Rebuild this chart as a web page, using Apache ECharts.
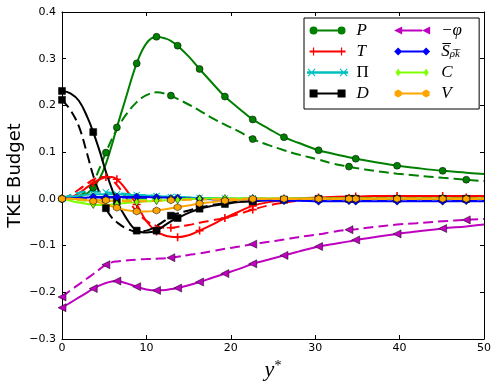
<!DOCTYPE html>
<html>
<head>
<meta charset="utf-8">
<script src="https://cdn.jsdelivr.net/npm/echarts@6/dist/echarts.min.js"></script>
<style>
html, body { margin: 0; padding: 0; background: #fff; }
#chart { width: 498px; height: 386px; }
</style>
</head>
<body>
<div id="chart"></div>
<script>
// y* grid shared by every curve
var yStar = [0, 1, 2, 3, 3.7, 4.5, 5.2, 5.9, 6.5, 7.5, 8.85, 10, 11.2, 12.3, 12.9, 13.7, 15, 16.3, 17.8, 19.3, 21, 22.6, 24.5, 26.3, 28, 30.4, 32, 34, 34.8, 37, 39.7, 42, 45.1, 47.9, 50];
// where markers sit on solid / dashed curves
var solidMarks = [0, 3.7, 6.5, 8.85, 11.2, 13.7, 16.3, 19.3, 22.6, 26.3, 30.4, 34.8, 39.7, 45.1];
var dashedMarks = [0, 5.2, 12.9, 22.6, 34, 47.9];

var pSolid = [0, 0.001, 0.004, 0.012, 0.024, 0.045, 0.075, 0.115, 0.153, 0.212, 0.29, 0.333, 0.347, 0.343, 0.338, 0.328, 0.305, 0.278, 0.248, 0.219, 0.193, 0.170, 0.150, 0.132, 0.12, 0.104, 0.097, 0.089, 0.086, 0.079, 0.071, 0.066, 0.060, 0.056, 0.053];
var pDashed = [0, 0.002, 0.006, 0.018, 0.035, 0.068, 0.099, 0.128, 0.148, 0.178, 0.207, 0.222, 0.228, 0.225, 0.221, 0.214, 0.202, 0.189, 0.173, 0.159, 0.144, 0.128, 0.115, 0.104, 0.095, 0.084, 0.076, 0.069, 0.066, 0.060, 0.054, 0.050, 0.045, 0.041, 0.038];
var tSolid = [0, 0.003, 0.012, 0.025, 0.034, 0.042, 0.046, 0.047, 0.042, 0.022, -0.012, -0.048, -0.07, -0.079, -0.081, -0.082, -0.078, -0.068, -0.055, -0.041, -0.027, -0.015, -0.007, -0.002, 0.001, 0.003, 0.004, 0.005, 0.005, 0.006, 0.006, 0.006, 0.006, 0.006, 0.006];
var tDashed = [0, 0.008, 0.02, 0.033, 0.041, 0.047, 0.047, 0.04, 0.03, 0.005, -0.027, -0.047, -0.058, -0.062, -0.062, -0.06, -0.056, -0.051, -0.046, -0.041, -0.032, -0.023, -0.014, -0.008, -0.004, -0.001, 0.001, 0.002, 0.002, 0.003, 0.003, 0.003, 0.003, 0.003, 0.003];
var piSolid = [0, 0.004, 0.007, 0.009, 0.01, 0.01, 0.01, 0.01, 0.01, 0.009, 0.008, 0.007, 0.006, 0.005, 0.004, 0.004, 0.003, 0.002, 0.002, 0.001, 0.001, 0.001, 0, 0, 0, 0, 0, 0, 0, 0, 0, 0, 0, 0, 0];
var piDashed = [0, 0.008, 0.013, 0.016, 0.016, 0.015, 0.014, 0.013, 0.012, 0.011, 0.009, 0.008, 0.006, 0.005, 0.004, 0.004, 0.003, 0.002, 0.001, 0.001, 0, 0, 0, 0, 0, 0, 0, 0, 0, 0, 0, 0, 0, 0, 0];
var dSolid = [0.231, 0.226, 0.21, 0.175, 0.143, 0.1, 0.058, 0.022, -0.005, -0.038, -0.068, -0.072, -0.068, -0.055, -0.048, -0.041, -0.03, -0.021, -0.015, -0.011, -0.007, -0.005, -0.003, -0.002, -0.001, 0, 0, 0, 0, 0, 0, 0, 0, 0, 0];
var dDashed = [0.212, 0.19, 0.155, 0.095, 0.05, 0.01, -0.02, -0.04, -0.05, -0.062, -0.07, -0.068, -0.058, -0.045, -0.036, -0.031, -0.025, -0.019, -0.013, -0.009, -0.006, -0.004, -0.002, -0.001, 0, 0, 0, 0, 0, 0, 0, 0, 0, 0, 0];
var phiSolid = [-0.233, -0.222, -0.211, -0.2, -0.192, -0.185, -0.18, -0.177, -0.176, -0.18, -0.188, -0.194, -0.196, -0.195, -0.193, -0.191, -0.185, -0.178, -0.169, -0.16, -0.15, -0.139, -0.13, -0.121, -0.113, -0.102, -0.097, -0.091, -0.088, -0.082, -0.075, -0.07, -0.0635, -0.059, -0.055];
var phiDashed = [-0.21, -0.196, -0.183, -0.17, -0.161, -0.15, -0.141, -0.136, -0.134, -0.132, -0.13, -0.129, -0.128, -0.127, -0.126, -0.124, -0.12, -0.117, -0.112, -0.107, -0.102, -0.097, -0.092, -0.087, -0.082, -0.076, -0.071, -0.066, -0.065, -0.06, -0.055, -0.052, -0.048, -0.045, -0.043];
var sSolid = [0, 0.001, 0.002, 0.003, 0.004, 0.004, 0.004, 0.004, 0.004, 0.004, 0.004, 0.004, 0.003, 0.003, 0.002, 0.002, 0.001, 0, -0.001, -0.002, -0.002, -0.003, -0.003, -0.004, -0.004, -0.005, -0.005, -0.005, -0.005, -0.005, -0.005, -0.005, -0.005, -0.005, -0.005];
var sDashed = [0, 0.001, 0.002, 0.002, 0.003, 0.003, 0.003, 0.003, 0.003, 0.003, 0.002, 0.002, 0.002, 0.001, 0.001, 0.001, 0, 0, -0.001, -0.001, -0.002, -0.002, -0.003, -0.003, -0.003, -0.004, -0.004, -0.004, -0.004, -0.004, -0.004, -0.004, -0.004, -0.004, -0.004];
var cSolid = [0, -0.004, -0.008, -0.011, -0.012, -0.013, -0.013, -0.012, -0.011, -0.009, -0.007, -0.005, -0.004, -0.003, -0.002, -0.002, -0.001, 0, 0.001, 0.001, 0.001, 0.001, 0.001, 0.001, 0.001, 0.001, 0.001, 0.001, 0.001, 0.001, 0.001, 0.001, 0.001, 0.001, 0.001];
var cDashed = [0, -0.002, -0.003, -0.004, -0.004, -0.004, -0.004, -0.004, -0.003, -0.003, -0.002, -0.002, -0.001, -0.001, -0.001, 0, 0, 0, 0, 0, 0, 0, 0, 0, 0, 0, 0, 0, 0, 0, 0, 0, 0, 0, 0];
var vSolid = [0, 0, -0.001, -0.003, -0.005, -0.008, -0.012, -0.016, -0.019, -0.024, -0.027, -0.027, -0.025, -0.022, -0.02, -0.018, -0.014, -0.01, -0.007, -0.004, -0.002, -0.001, 0, 0, 0, 0, 0, 0, 0, 0, 0, 0, 0, 0, 0];
var vDashed = [0, 0, -0.001, -0.002, -0.002, -0.003, -0.003, -0.004, -0.004, -0.005, -0.005, -0.005, -0.004, -0.004, -0.003, -0.003, -0.002, -0.002, -0.001, -0.001, 0, 0, 0, 0, 0, 0, 0, 0, 0, 0, 0, 0, 0, 0, 0];

var names = ['P', 'T', 'Π', 'D', '−φ', 'Sρk', 'C', 'V'];
var colors = ['#008000', '#ff0000', '#00bfbf', '#000000', '#bf00bf', '#0000ff', '#80ff00', '#ffa500'];

// marker shapes (matplotlib o + x s < D d h)
var markers = [
    {symbol: 'circle', size: 7, edge: true},
    {symbol: 'path://M4,0H6V10H4Z M0,4H10V6H0Z', size: 8, edge: false},
    {symbol: 'path://M0,1L1,0L5,4L9,0L10,1L6,5L10,9L9,10L5,6L1,10L0,9L4,5Z', size: 7, edge: false},
    {symbol: 'rect', size: 7, edge: true},
    {symbol: 'path://M0,5L10,0V10Z', size: 8, edge: true},
    {symbol: 'diamond', size: [8, 8], edge: true},
    {symbol: 'diamond', size: [5, 8], edge: true},
    {symbol: 'path://M5,0L9.33,2.5V7.5L5,10L0.67,7.5V2.5Z', size: 7, edge: true}
];
// legend handles: line with a marker at both ends
var legendIcons = [
    'path://M0,4a4,4 0 1,1 8,0a4,4 0 1,1 -8,0Z M28,4a4,4 0 1,1 8,0a4,4 0 1,1 -8,0Z M8,3H28V5H8Z',
    'path://M0,3H36V5H0Z M3.4,0H4.6V8H3.4Z M31.4,0H32.6V8H31.4Z',
    'path://M0.5,1.2L1.2,0.5L4,3.3L6.8,0.5L7.5,1.2L4.7,4L7.5,6.8L6.8,7.5L4,4.7L1.2,7.5L0.5,6.8L3.3,4Z M28.5,1.2L29.2,0.5L32,3.3L34.8,0.5L35.5,1.2L32.7,4L35.5,6.8L34.8,7.5L32,4.7L29.2,7.5L28.5,6.8L31.3,4Z M0,3H36V5H0Z',
    'path://M0,0H8V8H0Z M28,0H36V8H28Z M8,3H28V5H8Z',
    'path://M0,4L8,0V8Z M28,4L36,0V8Z M8,3H28V5H8Z',
    'path://M4,0L8,4L4,8L0,4Z M32,0L36,4L32,8L28,4Z M6,3H30V5H6Z',
    'path://M4,0L6.5,4L4,8L1.5,4Z M32,0L34.5,4L32,8L29.5,4Z M5,3H31V5H5Z',
    'path://M4,0L7.5,2V6L4,8L0.5,6V2Z M32,0L35.5,2V6L32,8L28.5,6V2Z M7,3H29V5H7Z'
];
var solidData = [pSolid, tSolid, piSolid, dSolid, phiSolid, sSolid, cSolid, vSolid];
var dashedData = [pDashed, tDashed, piDashed, dDashed, phiDashed, sDashed, cDashed, vDashed];

function buildSeries(name, values, idx, dashed) {
    var marks = dashed ? dashedMarks : solidMarks;
    var data = [];
    for (var i = 0; i < yStar.length; i++) {
        var item = {value: [yStar[i], values[i]]};
        if (marks.indexOf(yStar[i]) < 0) {
            item.symbol = 'none';
        }
        data.push(item);
    }
    var m = markers[idx];
    return {
        name: name,
        type: 'line',
        smooth: 0.4,
        showSymbol: true,
        symbol: m.symbol,
        symbolSize: m.size,
        data: data,
        lineStyle: {color: colors[idx], width: 2, type: dashed ? [10, 5] : 'solid'},
        itemStyle: {
            color: colors[idx],
            borderColor: m.edge ? '#000' : colors[idx],
            borderWidth: m.edge ? 0.5 : 0
        },
        emphasis: {disabled: true},
        z: 2
    };
}

var series = [];
for (var k = 0; k < names.length; k++) {
    series.push(buildSeries(names[k], solidData[k], k, false));
    series.push(buildSeries(names[k] + ' dashed', dashedData[k], k, true));
}

var legendData = [];
for (var j = 0; j < names.length; j++) {
    legendData.push({name: names[j], icon: legendIcons[j]});
}

function fmtTick(v) {
    if (Math.abs(v) < 1e-9) return '0.0';
    return v.toFixed(1).replace('-', '\u2212');
}

var tickFont = {fontFamily: 'DejaVu Sans', fontSize: 11, color: '#000'};

var myChart = echarts.init(document.getElementById('chart'), null, {renderer: 'canvas'});
var option = {
    animation: false,
    backgroundColor: '#fff',
    grid: {left: 62, right: 14, top: 12, bottom: 47, containLabel: false, outerBoundsMode: 'none'},
    legend: {
        orient: 'vertical',
        left: 304,
        top: 18,
        height: 80,
        padding: [4, 7, 7, 3],
        itemGap: 4,
        itemWidth: 48,
        itemHeight: 8,
        borderColor: '#000',
        borderWidth: 1,
        backgroundColor: '#fff',
        itemStyle: {borderWidth: 0},
        data: legendData,
        formatter: function (name) {
            if (name === 'Sρk') return '{m|S\u0305}{sub|ρ\u0305k\u0305}';
            if (name === 'Π') return '{up|Π}';
            if (name === '−φ') return '{m|' + name + '}';
            return '{w|' + name + '}';
        },
        textStyle: {
            fontFamily: 'Liberation Serif',
            fontStyle: 'italic',
            fontSize: 17,
            lineHeight: 16,
            color: '#000',
            rich: {
                w: {fontFamily: 'Liberation Serif', fontStyle: 'italic', fontSize: 17, lineHeight: 16, width: 31},
                up: {fontFamily: 'Liberation Serif', fontStyle: 'normal', fontSize: 17, lineHeight: 16, width: 31},
                m: {fontFamily: 'Liberation Serif', fontStyle: 'italic', fontSize: 17, lineHeight: 16},
                sub: {fontFamily: 'Liberation Serif', fontStyle: 'italic', fontSize: 11, lineHeight: 8, verticalAlign: 'bottom'}
            }
        },
        z: 10
    },
    xAxis: [{
        type: 'value',
        min: 0, max: 50, interval: 10,
        name: '{it|y}{sup|*}',
        nameLocation: 'middle',
        nameGap: 19,
        nameTextStyle: {
            rich: {
                it: {fontFamily: 'Liberation Serif', fontStyle: 'italic', fontSize: 22, color: '#000'},
                sup: {fontFamily: 'Liberation Serif', fontSize: 14, color: '#000', verticalAlign: 'top', lineHeight: 14}
            }
        },
        axisLine: {show: true, onZero: false, lineStyle: {color: '#000', width: 1}},
        axisTick: {show: true, inside: true, length: 4, lineStyle: {color: '#000'}},
        axisLabel: Object.assign({margin: 4, formatter: function (v) { return String(v); }}, tickFont),
        splitLine: {show: false}
    }, {
        type: 'value',
        position: 'top',
        min: 0, max: 50, interval: 10,
        axisLine: {show: true, onZero: false, lineStyle: {color: '#000', width: 1}},
        axisTick: {show: true, inside: true, length: 4, lineStyle: {color: '#000'}},
        axisLabel: {show: false},
        splitLine: {show: false}
    }],
    yAxis: [{
        type: 'value',
        min: -0.3, max: 0.4, interval: 0.1,
        name: 'TKE Budget',
        nameLocation: 'middle',
        nameGap: 38,
        nameMoveOverlap: false,
        nameTextStyle: {fontFamily: 'DejaVu Sans', fontSize: 18, color: '#000'},
        axisLine: {show: true, onZero: false, lineStyle: {color: '#000', width: 1}},
        axisTick: {show: true, inside: true, length: 4, lineStyle: {color: '#000'}},
        axisLabel: Object.assign({margin: 6, formatter: fmtTick}, tickFont),
        splitLine: {show: false}
    }, {
        type: 'value',
        position: 'right',
        min: -0.3, max: 0.4, interval: 0.1,
        axisLine: {show: true, onZero: false, lineStyle: {color: '#000', width: 1}},
        axisTick: {show: true, inside: true, length: 4, lineStyle: {color: '#000'}},
        axisLabel: {show: false},
        splitLine: {show: false}
    }],
    series: series
};
myChart.setOption(option);
</script>
</body>
</html>
